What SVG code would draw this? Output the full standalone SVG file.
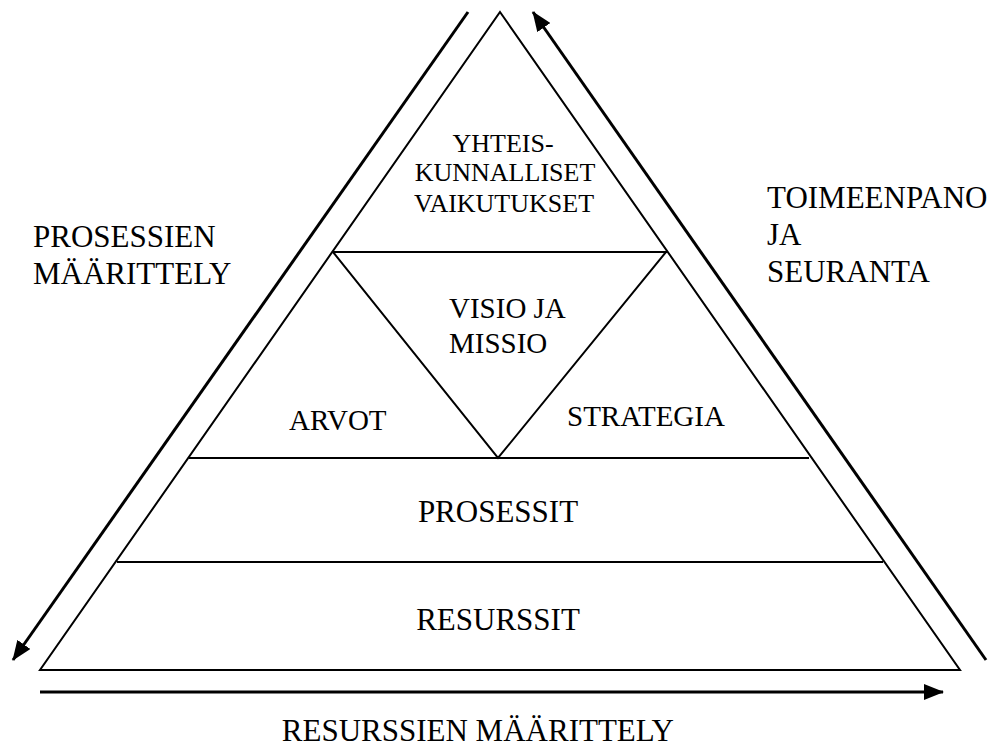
<svg xmlns="http://www.w3.org/2000/svg" width="1005" height="747" viewBox="0 0 1005 747">
  <style>
    .edge { fill: none; stroke: #000; stroke-width: 2; }
    .flow { fill: none; stroke: #000; stroke-width: 3; }
    text { font-family: "Liberation Serif", "Times New Roman", serif; fill: #000; }
    .big { font-size: 31px; }
    .mid { font-size: 29px; }
    .small { font-size: 26px; }
    .c { text-anchor: middle; }
  </style>
  <defs>
    <marker id="head" viewBox="0 0 20 16" markerWidth="20" markerHeight="16" refX="19" refY="8" orient="auto" markerUnits="userSpaceOnUse">
      <path d="M0,0 L20,8 L0,16 z" fill="#000"/>
    </marker>
  </defs>
  <rect width="1005" height="747" fill="#fff"/>

  <!-- pyramid outline and its horizontal layers -->
  <g id="pyramid">
    <polygon class="edge" points="500,12 960,670 40,670"/>
    <line class="edge" x1="332" y1="252" x2="667" y2="252"/>
    <line class="edge" x1="189" y1="458" x2="809" y2="458"/>
    <line class="edge" x1="117" y1="562" x2="883" y2="562"/>
    <polyline class="edge" points="333,252 498,458 666,252"/>
  </g>

  <!-- process arrows around the pyramid -->
  <g id="connectors">
    <line class="flow" x1="468" y1="12" x2="13" y2="660" marker-end="url(#head)"/>
    <line class="flow" x1="986" y1="660" x2="533" y2="12" marker-end="url(#head)"/>
    <line class="flow" x1="40" y1="692" x2="943" y2="692" marker-end="url(#head)"/>
  </g>

  <g id="yhteiskunnalliset">
    <text class="small c" x="503" y="152">YHTEIS-</text>
    <text class="small c" x="505" y="181">KUNNALLISET</text>
    <text class="small c" x="504" y="212">VAIKUTUKSET</text>
  </g>
  <g id="visio">
    <text class="mid" x="449" y="318">VISIO JA</text>
    <text class="mid" x="449" y="353">MISSIO</text>
  </g>
  <g id="arvot">
    <text class="mid" x="289" y="430">ARVOT</text>
  </g>
  <g id="strategia">
    <text class="mid" x="567" y="426">STRATEGIA</text>
  </g>
  <g id="prosessit">
    <text class="big c" x="498" y="522">PROSESSIT</text>
  </g>
  <g id="resurssit">
    <text class="big c" x="498" y="630">RESURSSIT</text>
  </g>
  <g id="prosessien-maarittely">
    <text class="big" x="33" y="247">PROSESSIEN</text>
    <text class="big" x="33" y="284">MÄÄRITTELY</text>
  </g>
  <g id="toimeenpano">
    <text class="big" x="767" y="208">TOIMEENPANO</text>
    <text class="big" x="767" y="245">JA</text>
    <text class="big" x="767" y="282">SEURANTA</text>
  </g>
  <g id="resurssien-maarittely">
    <text class="big" x="674" y="741" text-anchor="end">RESURSSIEN MÄÄRITTELY</text>
  </g>
</svg>
